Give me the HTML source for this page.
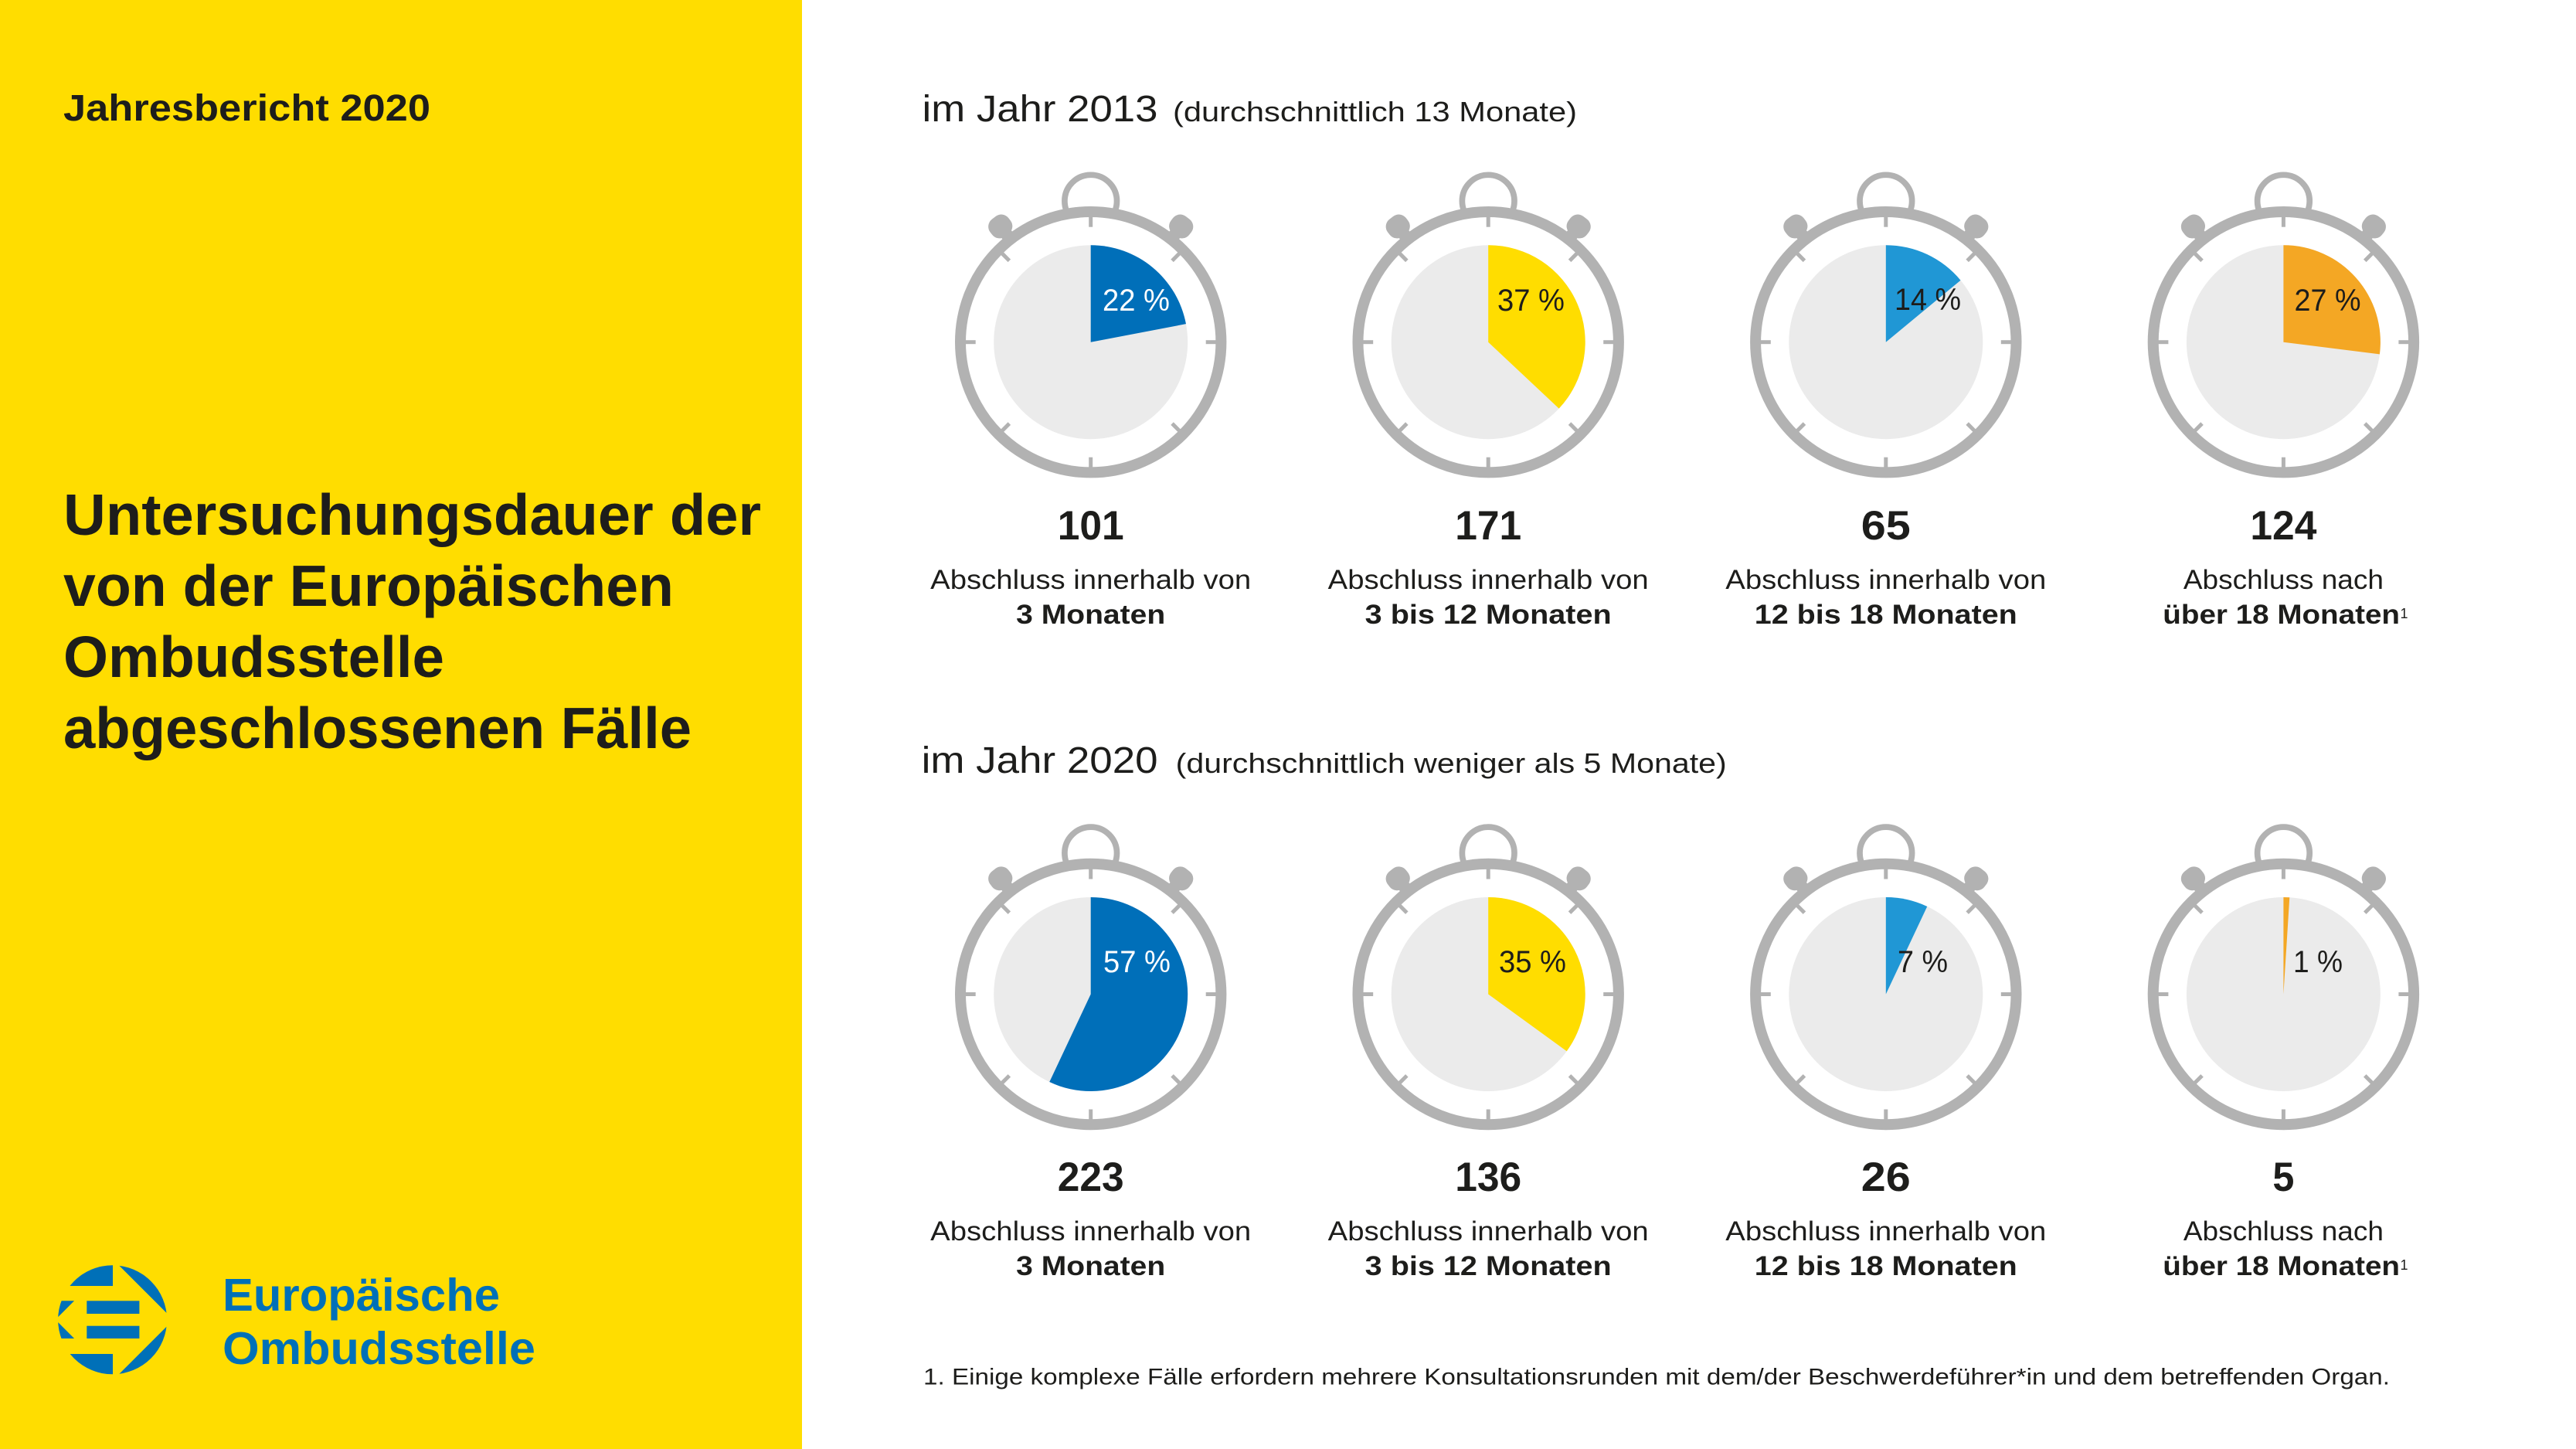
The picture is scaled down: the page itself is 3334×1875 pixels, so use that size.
<!DOCTYPE html>
<html><head><meta charset="utf-8"><style>
html,body{margin:0;padding:0;background:#fff;}
svg{display:block;}
text{font-family:"Liberation Sans",sans-serif;}
</style></head><body>
<svg width="3334" height="1875" viewBox="0 0 3334 1875" xmlns="http://www.w3.org/2000/svg">
<defs>
<clipPath id="lc"><circle cx="145.6" cy="1707.8" r="70.5"/></clipPath>
</defs>
<rect x="0" y="0" width="3334" height="1875" fill="#fff"/>
<rect x="0" y="0" width="1038" height="1875" fill="#FFDD00"/>

<text x="82" y="156" font-size="48" font-weight="bold" fill="#1D1D1B" textLength="475" lengthAdjust="spacingAndGlyphs">Jahresbericht 2020</text>
<g font-size="75" font-weight="bold" fill="#1D1D1B">
<text x="82" y="692" textLength="903" lengthAdjust="spacingAndGlyphs">Untersuchungsdauer der</text>
<text x="82" y="784" textLength="790" lengthAdjust="spacingAndGlyphs">von der Europäischen</text>
<text x="82" y="876" textLength="493" lengthAdjust="spacingAndGlyphs">Ombudsstelle</text>
<text x="82" y="968" textLength="813" lengthAdjust="spacingAndGlyphs">abgeschlossenen Fälle</text>
</g>

<g clip-path="url(#lc)" fill="#0070B8">
<g transform="translate(145.6,1707.8)">
<rect x="-80" y="-80" width="80.4" height="36.2"/>
<rect x="-80" y="44.2" width="80.4" height="40"/>
<polygon points="3.8,-75 80,-75 80,1.2"/>
<polygon points="3.8,75 80,75 80,-1.2"/>
<polygon points="-80,-24.5 -49.5,-24.5 -80,6"/>
<polygon points="-80,24.2 -49.5,24.2 -80,-6.3"/>
<rect x="-33.3" y="-24.5" width="68.1" height="16.7"/>
<rect x="-33.3" y="7.9" width="68.1" height="16.3"/>
</g>
</g>
<text x="288" y="1696" font-size="59" font-weight="bold" fill="#0070B8" textLength="359" lengthAdjust="spacingAndGlyphs">Europäische</text>
<text x="288" y="1765" font-size="59" font-weight="bold" fill="#0070B8" textLength="405" lengthAdjust="spacingAndGlyphs">Ombudsstelle</text>

<text x="1193.5" y="157" font-size="48" fill="#1D1D1B" textLength="305" lengthAdjust="spacingAndGlyphs">im Jahr 2013</text>
<text x="1518" y="157" font-size="36" fill="#1D1D1B" textLength="523" lengthAdjust="spacingAndGlyphs">(durchschnittlich 13 Monate)</text>
<text x="1192.6" y="1000" font-size="48" fill="#1D1D1B" textLength="306" lengthAdjust="spacingAndGlyphs">im Jahr 2020</text>
<text x="1521.7" y="1000" font-size="36" fill="#1D1D1B" textLength="713" lengthAdjust="spacingAndGlyphs">(durchschnittlich weniger als 5 Monate)</text>

<!-- Row 1 -->
<g transform="translate(1411.7,442.7)">
<circle cx="0" cy="-182.6" r="33.8" fill="none" stroke="#B2B2B2" stroke-width="7.7"/>
<g fill="#B2B2B2" transform="rotate(-38)"><rect x="-15" y="-204" width="30" height="28" rx="12"/><rect x="-8" y="-182" width="16" height="14"/></g>
<g fill="#B2B2B2" transform="rotate(38)"><rect x="-15" y="-204" width="30" height="28" rx="12"/><rect x="-8" y="-182" width="16" height="14"/></g>
<circle r="175" fill="#fff"/>
<circle r="168.7" fill="none" stroke="#B2B2B2" stroke-width="14"/>
<g stroke="#B2B2B2" stroke-width="5"><line x1="0" y1="-149" x2="0" y2="-163"/><line x1="0" y1="-149" x2="0" y2="-163" transform="rotate(45)"/><line x1="0" y1="-149" x2="0" y2="-163" transform="rotate(90)"/><line x1="0" y1="-149" x2="0" y2="-163" transform="rotate(135)"/><line x1="0" y1="-149" x2="0" y2="-163" transform="rotate(180)"/><line x1="0" y1="-149" x2="0" y2="-163" transform="rotate(225)"/><line x1="0" y1="-149" x2="0" y2="-163" transform="rotate(270)"/><line x1="0" y1="-149" x2="0" y2="-163" transform="rotate(315)"/></g>
<circle r="125.5" fill="#EBEBEB"/>
<path d="M0,0 L0,-125.5 A125.5,125.5 0 0,1 123.28,-23.52 Z" fill="#006FB9"/>
</g>
<g transform="translate(1926.2,442.7)">
<circle cx="0" cy="-182.6" r="33.8" fill="none" stroke="#B2B2B2" stroke-width="7.7"/>
<g fill="#B2B2B2" transform="rotate(-38)"><rect x="-15" y="-204" width="30" height="28" rx="12"/><rect x="-8" y="-182" width="16" height="14"/></g>
<g fill="#B2B2B2" transform="rotate(38)"><rect x="-15" y="-204" width="30" height="28" rx="12"/><rect x="-8" y="-182" width="16" height="14"/></g>
<circle r="175" fill="#fff"/>
<circle r="168.7" fill="none" stroke="#B2B2B2" stroke-width="14"/>
<g stroke="#B2B2B2" stroke-width="5"><line x1="0" y1="-149" x2="0" y2="-163"/><line x1="0" y1="-149" x2="0" y2="-163" transform="rotate(45)"/><line x1="0" y1="-149" x2="0" y2="-163" transform="rotate(90)"/><line x1="0" y1="-149" x2="0" y2="-163" transform="rotate(135)"/><line x1="0" y1="-149" x2="0" y2="-163" transform="rotate(180)"/><line x1="0" y1="-149" x2="0" y2="-163" transform="rotate(225)"/><line x1="0" y1="-149" x2="0" y2="-163" transform="rotate(270)"/><line x1="0" y1="-149" x2="0" y2="-163" transform="rotate(315)"/></g>
<circle r="125.5" fill="#EBEBEB"/>
<path d="M0,0 L0,-125.5 A125.5,125.5 0 0,1 91.49,85.91 Z" fill="#FFDD00"/>
</g>
<g transform="translate(2440.8,442.7)">
<circle cx="0" cy="-182.6" r="33.8" fill="none" stroke="#B2B2B2" stroke-width="7.7"/>
<g fill="#B2B2B2" transform="rotate(-38)"><rect x="-15" y="-204" width="30" height="28" rx="12"/><rect x="-8" y="-182" width="16" height="14"/></g>
<g fill="#B2B2B2" transform="rotate(38)"><rect x="-15" y="-204" width="30" height="28" rx="12"/><rect x="-8" y="-182" width="16" height="14"/></g>
<circle r="175" fill="#fff"/>
<circle r="168.7" fill="none" stroke="#B2B2B2" stroke-width="14"/>
<g stroke="#B2B2B2" stroke-width="5"><line x1="0" y1="-149" x2="0" y2="-163"/><line x1="0" y1="-149" x2="0" y2="-163" transform="rotate(45)"/><line x1="0" y1="-149" x2="0" y2="-163" transform="rotate(90)"/><line x1="0" y1="-149" x2="0" y2="-163" transform="rotate(135)"/><line x1="0" y1="-149" x2="0" y2="-163" transform="rotate(180)"/><line x1="0" y1="-149" x2="0" y2="-163" transform="rotate(225)"/><line x1="0" y1="-149" x2="0" y2="-163" transform="rotate(270)"/><line x1="0" y1="-149" x2="0" y2="-163" transform="rotate(315)"/></g>
<circle r="125.5" fill="#EBEBEB"/>
<path d="M0,0 L0,-125.5 A125.5,125.5 0 0,1 96.70,-80.00 Z" fill="#2097D5"/>
</g>
<g transform="translate(2955.4,442.7)">
<circle cx="0" cy="-182.6" r="33.8" fill="none" stroke="#B2B2B2" stroke-width="7.7"/>
<g fill="#B2B2B2" transform="rotate(-38)"><rect x="-15" y="-204" width="30" height="28" rx="12"/><rect x="-8" y="-182" width="16" height="14"/></g>
<g fill="#B2B2B2" transform="rotate(38)"><rect x="-15" y="-204" width="30" height="28" rx="12"/><rect x="-8" y="-182" width="16" height="14"/></g>
<circle r="175" fill="#fff"/>
<circle r="168.7" fill="none" stroke="#B2B2B2" stroke-width="14"/>
<g stroke="#B2B2B2" stroke-width="5"><line x1="0" y1="-149" x2="0" y2="-163"/><line x1="0" y1="-149" x2="0" y2="-163" transform="rotate(45)"/><line x1="0" y1="-149" x2="0" y2="-163" transform="rotate(90)"/><line x1="0" y1="-149" x2="0" y2="-163" transform="rotate(135)"/><line x1="0" y1="-149" x2="0" y2="-163" transform="rotate(180)"/><line x1="0" y1="-149" x2="0" y2="-163" transform="rotate(225)"/><line x1="0" y1="-149" x2="0" y2="-163" transform="rotate(270)"/><line x1="0" y1="-149" x2="0" y2="-163" transform="rotate(315)"/></g>
<circle r="125.5" fill="#EBEBEB"/>
<path d="M0,0 L0,-125.5 A125.5,125.5 0 0,1 124.51,15.73 Z" fill="#F4A724"/>
</g>

<!-- Row 2 -->
<g transform="translate(1411.7,1286.5)">
<circle cx="0" cy="-182.6" r="33.8" fill="none" stroke="#B2B2B2" stroke-width="7.7"/>
<g fill="#B2B2B2" transform="rotate(-38)"><rect x="-15" y="-204" width="30" height="28" rx="12"/><rect x="-8" y="-182" width="16" height="14"/></g>
<g fill="#B2B2B2" transform="rotate(38)"><rect x="-15" y="-204" width="30" height="28" rx="12"/><rect x="-8" y="-182" width="16" height="14"/></g>
<circle r="175" fill="#fff"/>
<circle r="168.7" fill="none" stroke="#B2B2B2" stroke-width="14"/>
<g stroke="#B2B2B2" stroke-width="5"><line x1="0" y1="-149" x2="0" y2="-163"/><line x1="0" y1="-149" x2="0" y2="-163" transform="rotate(45)"/><line x1="0" y1="-149" x2="0" y2="-163" transform="rotate(90)"/><line x1="0" y1="-149" x2="0" y2="-163" transform="rotate(135)"/><line x1="0" y1="-149" x2="0" y2="-163" transform="rotate(180)"/><line x1="0" y1="-149" x2="0" y2="-163" transform="rotate(225)"/><line x1="0" y1="-149" x2="0" y2="-163" transform="rotate(270)"/><line x1="0" y1="-149" x2="0" y2="-163" transform="rotate(315)"/></g>
<circle r="125.5" fill="#EBEBEB"/>
<path d="M0,0 L0,-125.5 A125.5,125.5 0 1,1 -53.44,113.56 Z" fill="#006FB9"/>
</g>
<g transform="translate(1926.2,1286.5)">
<circle cx="0" cy="-182.6" r="33.8" fill="none" stroke="#B2B2B2" stroke-width="7.7"/>
<g fill="#B2B2B2" transform="rotate(-38)"><rect x="-15" y="-204" width="30" height="28" rx="12"/><rect x="-8" y="-182" width="16" height="14"/></g>
<g fill="#B2B2B2" transform="rotate(38)"><rect x="-15" y="-204" width="30" height="28" rx="12"/><rect x="-8" y="-182" width="16" height="14"/></g>
<circle r="175" fill="#fff"/>
<circle r="168.7" fill="none" stroke="#B2B2B2" stroke-width="14"/>
<g stroke="#B2B2B2" stroke-width="5"><line x1="0" y1="-149" x2="0" y2="-163"/><line x1="0" y1="-149" x2="0" y2="-163" transform="rotate(45)"/><line x1="0" y1="-149" x2="0" y2="-163" transform="rotate(90)"/><line x1="0" y1="-149" x2="0" y2="-163" transform="rotate(135)"/><line x1="0" y1="-149" x2="0" y2="-163" transform="rotate(180)"/><line x1="0" y1="-149" x2="0" y2="-163" transform="rotate(225)"/><line x1="0" y1="-149" x2="0" y2="-163" transform="rotate(270)"/><line x1="0" y1="-149" x2="0" y2="-163" transform="rotate(315)"/></g>
<circle r="125.5" fill="#EBEBEB"/>
<path d="M0,0 L0,-125.5 A125.5,125.5 0 0,1 101.53,73.77 Z" fill="#FFDD00"/>
</g>
<g transform="translate(2440.8,1286.5)">
<circle cx="0" cy="-182.6" r="33.8" fill="none" stroke="#B2B2B2" stroke-width="7.7"/>
<g fill="#B2B2B2" transform="rotate(-38)"><rect x="-15" y="-204" width="30" height="28" rx="12"/><rect x="-8" y="-182" width="16" height="14"/></g>
<g fill="#B2B2B2" transform="rotate(38)"><rect x="-15" y="-204" width="30" height="28" rx="12"/><rect x="-8" y="-182" width="16" height="14"/></g>
<circle r="175" fill="#fff"/>
<circle r="168.7" fill="none" stroke="#B2B2B2" stroke-width="14"/>
<g stroke="#B2B2B2" stroke-width="5"><line x1="0" y1="-149" x2="0" y2="-163"/><line x1="0" y1="-149" x2="0" y2="-163" transform="rotate(45)"/><line x1="0" y1="-149" x2="0" y2="-163" transform="rotate(90)"/><line x1="0" y1="-149" x2="0" y2="-163" transform="rotate(135)"/><line x1="0" y1="-149" x2="0" y2="-163" transform="rotate(180)"/><line x1="0" y1="-149" x2="0" y2="-163" transform="rotate(225)"/><line x1="0" y1="-149" x2="0" y2="-163" transform="rotate(270)"/><line x1="0" y1="-149" x2="0" y2="-163" transform="rotate(315)"/></g>
<circle r="125.5" fill="#EBEBEB"/>
<path d="M0,0 L0,-125.5 A125.5,125.5 0 0,1 53.44,-113.56 Z" fill="#2097D5"/>
</g>
<g transform="translate(2955.4,1286.5)">
<circle cx="0" cy="-182.6" r="33.8" fill="none" stroke="#B2B2B2" stroke-width="7.7"/>
<g fill="#B2B2B2" transform="rotate(-38)"><rect x="-15" y="-204" width="30" height="28" rx="12"/><rect x="-8" y="-182" width="16" height="14"/></g>
<g fill="#B2B2B2" transform="rotate(38)"><rect x="-15" y="-204" width="30" height="28" rx="12"/><rect x="-8" y="-182" width="16" height="14"/></g>
<circle r="175" fill="#fff"/>
<circle r="168.7" fill="none" stroke="#B2B2B2" stroke-width="14"/>
<g stroke="#B2B2B2" stroke-width="5"><line x1="0" y1="-149" x2="0" y2="-163"/><line x1="0" y1="-149" x2="0" y2="-163" transform="rotate(45)"/><line x1="0" y1="-149" x2="0" y2="-163" transform="rotate(90)"/><line x1="0" y1="-149" x2="0" y2="-163" transform="rotate(135)"/><line x1="0" y1="-149" x2="0" y2="-163" transform="rotate(180)"/><line x1="0" y1="-149" x2="0" y2="-163" transform="rotate(225)"/><line x1="0" y1="-149" x2="0" y2="-163" transform="rotate(270)"/><line x1="0" y1="-149" x2="0" y2="-163" transform="rotate(315)"/></g>
<circle r="125.5" fill="#EBEBEB"/>
<path d="M0,0 L0,-125.5 A125.5,125.5 0 0,1 7.88,-125.25 Z" fill="#F4A724"/>
</g>

<g font-size="40">
<text x="1427" y="402" fill="#fff" textLength="87" lengthAdjust="spacingAndGlyphs">22 %</text>
<text x="1938" y="402" fill="#1D1D1B" textLength="87" lengthAdjust="spacingAndGlyphs">37 %</text>
<text x="2452" y="401" fill="#1D1D1B" textLength="86" lengthAdjust="spacingAndGlyphs">14 %</text>
<text x="2969.5" y="402" fill="#1D1D1B" textLength="86" lengthAdjust="spacingAndGlyphs">27 %</text>
<text x="1428" y="1258" fill="#fff" textLength="87" lengthAdjust="spacingAndGlyphs">57 %</text>
<text x="1940" y="1258" fill="#1D1D1B" textLength="87" lengthAdjust="spacingAndGlyphs">35 %</text>
<text x="2456" y="1258" fill="#1D1D1B" textLength="65" lengthAdjust="spacingAndGlyphs">7 %</text>
<text x="2968" y="1258" fill="#1D1D1B" textLength="64" lengthAdjust="spacingAndGlyphs">1 %</text>
</g>

<g font-size="53" font-weight="bold" fill="#1D1D1B">
<text x="1368.7" y="698" textLength="86" lengthAdjust="spacingAndGlyphs">101</text>
<text x="1883.2" y="698" textLength="86" lengthAdjust="spacingAndGlyphs">171</text>
<text x="2408.8" y="698" textLength="64" lengthAdjust="spacingAndGlyphs">65</text>
<text x="2912.4" y="698" textLength="86" lengthAdjust="spacingAndGlyphs">124</text>
<text x="1368.7" y="1541" textLength="86" lengthAdjust="spacingAndGlyphs">223</text>
<text x="1883.2" y="1541" textLength="86" lengthAdjust="spacingAndGlyphs">136</text>
<text x="2408.8" y="1541" textLength="64" lengthAdjust="spacingAndGlyphs">26</text>
<text x="2941.4" y="1541" textLength="28" lengthAdjust="spacingAndGlyphs">5</text>
</g>

<g font-size="35" fill="#1D1D1B">
<text x="1204.2" y="762" textLength="415" lengthAdjust="spacingAndGlyphs">Abschluss innerhalb von</text>
<text x="1718.7" y="762" textLength="415" lengthAdjust="spacingAndGlyphs">Abschluss innerhalb von</text>
<text x="2233.3" y="762" textLength="415" lengthAdjust="spacingAndGlyphs">Abschluss innerhalb von</text>
<text x="2825.9" y="762" textLength="259" lengthAdjust="spacingAndGlyphs">Abschluss nach</text>
<text x="1204.2" y="1605" textLength="415" lengthAdjust="spacingAndGlyphs">Abschluss innerhalb von</text>
<text x="1718.7" y="1605" textLength="415" lengthAdjust="spacingAndGlyphs">Abschluss innerhalb von</text>
<text x="2233.3" y="1605" textLength="415" lengthAdjust="spacingAndGlyphs">Abschluss innerhalb von</text>
<text x="2825.9" y="1605" textLength="259" lengthAdjust="spacingAndGlyphs">Abschluss nach</text>
</g>
<g font-size="35" font-weight="bold" fill="#1D1D1B">
<text x="1315.2" y="807" textLength="193" lengthAdjust="spacingAndGlyphs">3 Monaten</text>
<text x="1766.7" y="807" textLength="319" lengthAdjust="spacingAndGlyphs">3 bis 12 Monaten</text>
<text x="2270.8" y="807" textLength="340" lengthAdjust="spacingAndGlyphs">12 bis 18 Monaten</text>
<text x="2799.3" y="807" textLength="306.7" lengthAdjust="spacingAndGlyphs">über 18 Monaten</text>
<text x="1315.2" y="1650" textLength="193" lengthAdjust="spacingAndGlyphs">3 Monaten</text>
<text x="1766.7" y="1650" textLength="319" lengthAdjust="spacingAndGlyphs">3 bis 12 Monaten</text>
<text x="2270.8" y="1650" textLength="340" lengthAdjust="spacingAndGlyphs">12 bis 18 Monaten</text>
<text x="2799.3" y="1650" textLength="306.7" lengthAdjust="spacingAndGlyphs">über 18 Monaten</text>
</g>
<g font-size="18" fill="#1D1D1B">
<text x="3106.5" y="800">1</text>
<text x="3106.5" y="1643">1</text>
</g>

<text x="1195" y="1791.7" font-size="30" fill="#1D1D1B" textLength="1898" lengthAdjust="spacingAndGlyphs">1. Einige komplexe Fälle erfordern mehrere Konsultationsrunden mit dem/der Beschwerdeführer*in und dem betreffenden Organ.</text>
</svg>
</body></html>
